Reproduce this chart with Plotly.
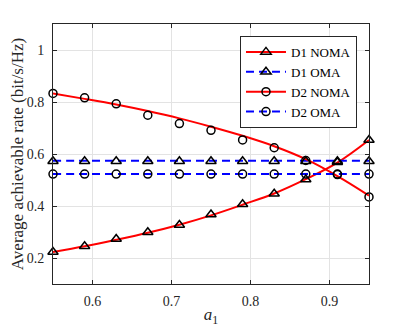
import plotly.graph_objects as go

# ==============================
# DADOS
# ==============================

a1 = [0.55, 0.59, 0.63, 0.67, 0.71, 0.75, 0.79, 0.83, 0.87, 0.91, 0.95]

# curvas analiticas (linha)
d1_noma_linha = [0.223, 0.245, 0.270, 0.297, 0.328, 0.364, 0.405, 0.448, 0.503, 0.567, 0.654]
d2_noma_linha = [0.833, 0.812, 0.790, 0.765, 0.737, 0.705, 0.670, 0.630, 0.580, 0.515, 0.440]
d1_oma_linha = [0.574] * len(a1)
d2_oma_linha = [0.523] * len(a1)

# simulacao (marcadores)
d1_noma_sim = [0.223, 0.245, 0.273, 0.299, 0.327, 0.367, 0.407, 0.447, 0.502, 0.568, 0.654]
d2_noma_sim = [0.833, 0.816, 0.793, 0.749, 0.717, 0.691, 0.654, 0.624, 0.575, 0.521, 0.435]
d1_oma_sim = [0.572] * len(a1)
d2_oma_sim = [0.523] * len(a1)

nomes = ["D1 NOMA", "D1 OMA", "D2 NOMA", "D2 OMA"]

x_ticks = [0.6, 0.7, 0.8, 0.9]
y_ticks = [0.2, 0.4, 0.6, 0.8, 1.0]
y_labels = ["0.2", "0.4", "0.6", "0.8", "1"]

# ==============================
# ESTILO
# ==============================

FONTE = "'Liberation Serif', 'DejaVu Serif', serif"
VERMELHO = "#ff0000"
AZUL = "#0000ff"
TRACO = "8px,5px"

series = [
    (d1_noma_linha, d1_noma_sim, VERMELHO, "solid", "triangle-up-open", 9),
    (d1_oma_linha, d1_oma_sim, AZUL, TRACO, "triangle-up-open", 9),
    (d2_noma_linha, d2_noma_sim, VERMELHO, "solid", "circle-open", 8),
    (d2_oma_linha, d2_oma_sim, AZUL, TRACO, "circle-open", 8),
]

fig = go.Figure()

# linhas
for linha, sim, cor, dash, simbolo, tam in series:
    fig.add_trace(go.Scatter(
        x=a1, y=linha, mode="lines",
        line=dict(color=cor, width=2, dash=dash, shape="spline"),
        showlegend=False, cliponaxis=False, hoverinfo="skip"
    ))

# marcadores
for linha, sim, cor, dash, simbolo, tam in series:
    fig.add_trace(go.Scatter(
        x=a1, y=sim, mode="markers",
        marker=dict(symbol=simbolo, size=tam, color="black", line=dict(width=1.5, color="black")),
        showlegend=False, cliponaxis=False
    ))

# entradas da legenda
for nome, (linha, sim, cor, dash, simbolo, tam) in zip(nomes, series):
    fig.add_trace(go.Scatter(
        x=[None], y=[None], mode="lines+markers", name=nome,
        line=dict(color=cor, width=2, dash=dash),
        marker=dict(symbol=simbolo, size=tam, color="black", line=dict(width=1.5, color="black"))
    ))

eixo = dict(
    showline=True, linecolor="#262626", linewidth=1, mirror="ticks",
    ticks="inside", ticklen=4, tickcolor="#262626",
    showgrid=True, gridcolor="#e3e3e3", gridwidth=1,
    zeroline=False, automargin=False,
    tickfont=dict(family=FONTE, size=14, color="#262626"),
)

# a pagina tem 8px de margem no body, por isso 399x319
fig.update_layout(
    width=399, height=319,
    margin=dict(l=45, r=38, t=16, b=43),
    paper_bgcolor="white", plot_bgcolor="white",
    font=dict(family=FONTE, size=14, color="#262626"),
    xaxis=dict(
        eixo, range=[0.55, 0.95], tickvals=x_ticks,
        ticktext=[f"{v:.1f}" for v in x_ticks], ticklabelstandoff=4,
        title=dict(text="<i>a</i><sub>1</sub>", font=dict(family=FONTE, size=17), standoff=8)
    ),
    yaxis=dict(
        eixo, range=[0.1, 1.1], tickvals=y_ticks, ticktext=y_labels, ticklabelstandoff=5,
        title=dict(text="Average achievable rate (bit/s/Hz)", font=dict(family=FONTE, size=17), standoff=5)
    ),
    legend=dict(
        x=0.962, y=0.954, xanchor="right", yanchor="top",
        bgcolor="white", bordercolor="#262626", borderwidth=1,
        font=dict(family=FONTE, size=13, color="black"),
        itemwidth=40, tracegroupgap=0
    ),
    showlegend=True
)

fig.write_html("out.html")
